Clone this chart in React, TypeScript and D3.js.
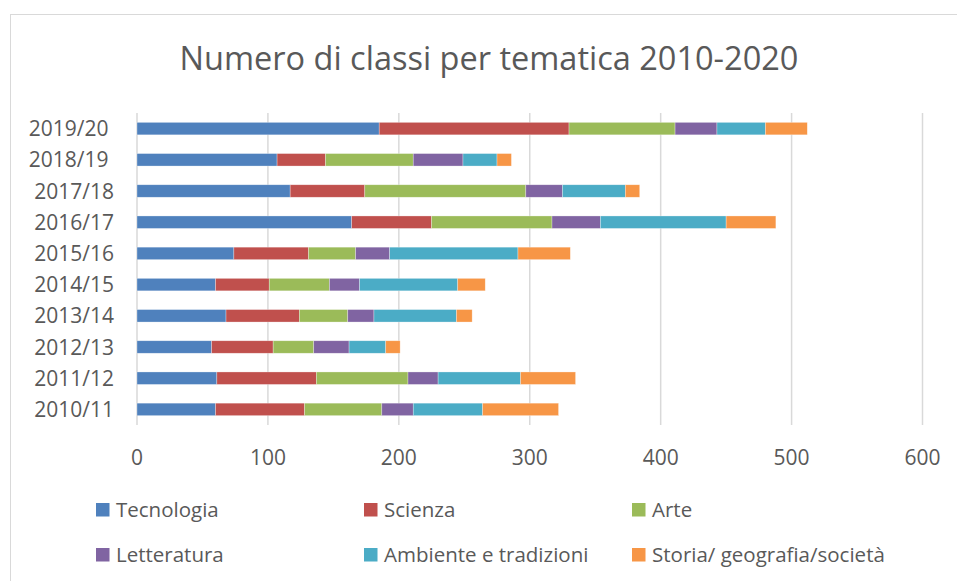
import React from 'react';
import * as d3 from 'd3';

const years = ['2010/11', '2011/12', '2012/13', '2013/14', '2014/15', '2015/16', '2016/17', '2017/18', '2018/19 ', '2019/20 '];
const series = ['Tecnologia', 'Scienza', 'Arte', 'Letteratura', 'Ambiente e tradizioni', 'Storia/ geografia/società'];
const tecnologia = [60, 61, 57, 68, 60, 74, 164, 117, 107, 185];
const scienza = [68, 76, 47, 56, 41, 57, 61, 57, 37, 145];
const arte = [59, 70, 31, 37, 46, 36, 92, 123, 67, 81];
const letteratura = [24, 23, 27, 20, 23, 26, 37, 28, 38, 32];
const ambiente = [53, 63, 28, 63, 75, 98, 96, 48, 26, 37];
const storia = [58, 42, 11, 12, 21, 40, 38, 11, 11, 32];
const xTicks = [0, 100, 200, 300, 400, 500, 600];
const colors = ['#4F81BD', '#C0504D', '#9BBB59', '#8064A2', '#4BACC6', '#F79646'];

const W = 957;
const H = 581;
const FONT = '"Open Sans", sans-serif';
const TXT = '#595959';

export default function App() {
  const rows = years.map((y, i) => ({
    year: y,
    Tecnologia: tecnologia[i],
    Scienza: scienza[i],
    Arte: arte[i],
    Letteratura: letteratura[i],
    'Ambiente e tradizioni': ambiente[i],
    'Storia/ geografia/società': storia[i],
  }));
  const stacked = d3.stack<any>().keys(series)(rows);

  const x = d3.scaleLinear().domain([0, 600]).range([137, 922.5]);
  const y = d3.scaleBand().domain([...years].reverse()).range([113, 425]).paddingInner(0.6).paddingOuter(0.3);

  const legendX = [96, 364, 632];
  const legendY = [503, 548];

  return (
    <svg width={W} height={H} style={{ position: 'absolute', left: 0, top: 0, display: 'block' }} fontFamily={FONT}>
      <rect x={0} y={0} width={W} height={H} fill="#fff" />
      <rect x={10.5} y={14.5} width={W + 20} height={H + 20} fill="#fff" stroke="#D9D9D9" strokeWidth={1} />
      <text x={489} y={70} textAnchor="middle" fontSize={32.5} fill={TXT}>Numero di classi per tematica 2010-2020</text>

      {xTicks.map((t) => (
        <g key={t}>
          <line x1={x(t)} x2={x(t)} y1={113} y2={425} stroke="#D9D9D9" strokeWidth={1.5} />
          <text x={x(t)} y={465} textAnchor="middle" fontSize={21} fill={TXT}>{t}</text>
        </g>
      ))}

      {years.map((yr) => (
        <text key={yr} x={114} y={(y(yr) as number) + y.bandwidth() / 2} dy="0.36em" textAnchor="end" fontSize={21} fill={TXT} style={{ whiteSpace: 'pre' }}>{yr}</text>
      ))}

      {stacked.map((s, si) => (
        <g key={s.key} fill={colors[si]}>
          {s.map((d, i) => (
            <rect
              key={i}
              x={x(d[0])}
              y={y(rows[i].year) as number}
              width={x(d[1]) - x(d[0])}
              height={y.bandwidth()}
              stroke="#fff"
              strokeOpacity={0.5}
              strokeWidth={0.6}
            />
          ))}
        </g>
      ))}

      {series.map((name, i) => {
        const lx = legendX[i % 3];
        const ly = legendY[Math.floor(i / 3)];
        return (
          <g key={name}>
            <rect x={lx} y={ly} width={13.5} height={13.5} fill={colors[i]} />
            <text x={lx + 20} y={ly + 13.5} fontSize={20.5} fill={TXT}>{name}</text>
          </g>
        );
      })}
    </svg>
  );
}
